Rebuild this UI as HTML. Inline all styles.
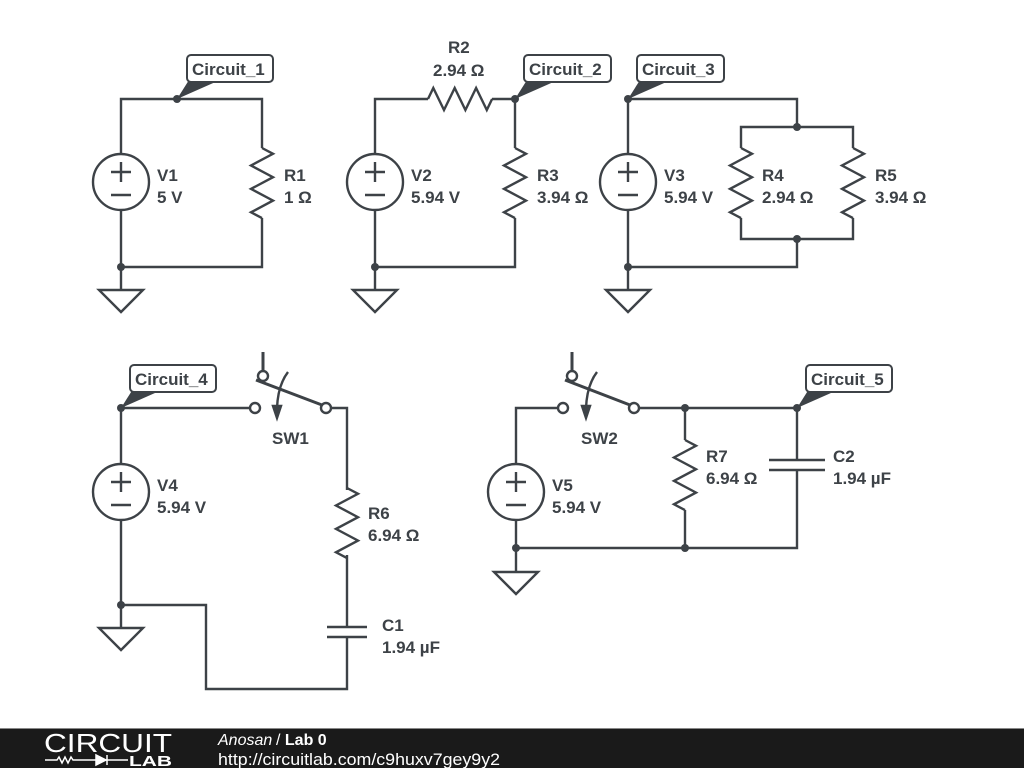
<!DOCTYPE html>
<html><head><meta charset="utf-8"><style>
html,body{margin:0;padding:0;width:1024px;height:768px;overflow:hidden;background:#fff}
svg{display:block}
text{font-family:"Liberation Sans",sans-serif;font-weight:bold;font-size:17px;fill:#3d4247}
</style></head><body>
<svg width="1024" height="768" viewBox="0 0 1024 768">
<defs>
<g id="res"><path d="M0,0 l11,5.8 l-22,11.7 l22,11.7 l-22,11.7 l22,11.7 l-22,11.7 l11,5.8" fill="none"/></g>
<g id="vs"><circle r="28" fill="#fff"/><path d="M-10,-10 h20 M0,-20 v20 M-10,13 h20" fill="none"/></g>
<g id="gnd"><path d="M-22,0 h44 l-22,22 z" fill="#fff"/></g>
</defs>
<g stroke="#3d4247" stroke-width="2.4" fill="none">
<!-- Circuit 1 -->
<path d="M121,154 V99 H262 V148 M262,218 V267 H121 V210 M121,267 V290"/>
<use href="#res" x="262" y="148"/>
<use href="#vs" x="121" y="182"/>
<use href="#gnd" x="121" y="290"/>
<!-- Circuit 2 -->
<path d="M375,154 V99 H428 M492,99 H515 V148 M515,218 V267 H375 V210 M375,267 V290"/>
<path d="M428,99 l5.3,-11 l10.7,22 l10.7,-22 l10.7,22 l10.7,-22 l10.7,22 l5.3,-11"/>
<use href="#res" x="515" y="148"/>
<use href="#vs" x="375" y="182"/>
<use href="#gnd" x="375" y="290"/>
<!-- Circuit 3 -->
<path d="M628,154 V99 H797 V127 M741,148 V127 H853 V148 M741,218 V239 H853 V218 M797,239 V267 H628 V210 M628,267 V290"/>
<use href="#res" x="741" y="148"/>
<use href="#res" x="853" y="148"/>
<use href="#vs" x="628" y="182"/>
<use href="#gnd" x="628" y="290"/>
<!-- Circuit 4 -->
<path d="M121,464 V408 H250 M331,408 H347 V490 M347,555 V627 M347,637 V689 H206 V605 H121 V520 M121,605 V628"/>
<use href="#res" x="347" y="488"/>
<path d="M327,627 H367 M327,637 H367"/>
<circle cx="255" cy="408" r="5" fill="#fff"/>
<circle cx="326" cy="408" r="5" fill="#fff"/>
<circle cx="263" cy="376" r="5" fill="#fff"/>
<path d="M263,352 V371 M256,380 L322,405" stroke-width="3"/>
<path d="M288,372 Q278,385 277,408"/>
<path d="M273,406 L277,418 L281,406 z" fill="#3d4247"/>
<use href="#vs" x="121" y="492"/>
<use href="#gnd" x="121" y="628"/>
<!-- Circuit 5 -->
<path d="M516,464 V408 H558 M639,408 H797 V460 M797,470 V548 H516 V520 M685,408 V440 M685,510 V548 M516,548 V572"/>
<use href="#res" x="685" y="440"/>
<path d="M769,460 H825 M769,470 H825"/>
<circle cx="563" cy="408" r="5" fill="#fff"/>
<circle cx="634" cy="408" r="5" fill="#fff"/>
<circle cx="572" cy="376" r="5" fill="#fff"/>
<path d="M572,352 V371 M565,380 L630,405" stroke-width="3"/>
<path d="M597,372 Q587,385 586,408"/>
<path d="M582,406 L586,418 L590,406 z" fill="#3d4247"/>
<use href="#vs" x="516" y="492"/>
<use href="#gnd" x="516" y="572"/>
</g>
<g fill="#3d4247">
<circle cx="177" cy="99" r="4"/><circle cx="121" cy="267" r="4"/>
<circle cx="515" cy="99" r="4"/><circle cx="375" cy="267" r="4"/>
<circle cx="628" cy="99" r="4"/><circle cx="797" cy="127" r="4"/><circle cx="797" cy="239" r="4"/><circle cx="628" cy="267" r="4"/>
<circle cx="121" cy="408" r="4"/><circle cx="121" cy="605" r="4"/>
<circle cx="685" cy="408" r="4"/><circle cx="797" cy="408" r="4"/><circle cx="516" cy="548" r="4"/><circle cx="685" cy="548" r="4"/>
<path d="M177,99 L189,80 L220,80 z"/>
<path d="M515,99 L527,80 L558,80 z"/>
<path d="M628,99 L640,80 L671,80 z"/>
<path d="M121,408 L133,389 L164,389 z"/>
<path d="M797,408 L809,389 L840,389 z"/>
</g>
<g fill="#fff" stroke="#3d4247" stroke-width="2">
<rect x="187" y="55" width="86" height="27" rx="4"/>
<rect x="524" y="55" width="87" height="27" rx="4"/>
<rect x="637" y="55" width="87" height="27" rx="4"/>
<rect x="130" y="365" width="86" height="27" rx="4"/>
<rect x="806" y="365" width="86" height="27" rx="4"/>
</g>
<text x="192" y="75">Circuit_1</text>
<text x="529" y="75">Circuit_2</text>
<text x="642" y="75">Circuit_3</text>
<text x="135" y="385">Circuit_4</text>
<text x="811" y="385">Circuit_5</text>
<text x="157" y="181">V1</text><text x="157" y="203">5 V</text>
<text x="284" y="181">R1</text><text x="284" y="203">1 Ω</text>
<text x="448" y="53">R2</text><text x="433" y="76">2.94 Ω</text>
<text x="411" y="181">V2</text><text x="411" y="203">5.94 V</text>
<text x="537" y="181">R3</text><text x="537" y="203">3.94 Ω</text>
<text x="664" y="181">V3</text><text x="664" y="203">5.94 V</text>
<text x="762" y="181">R4</text><text x="762" y="203">2.94 Ω</text>
<text x="875" y="181">R5</text><text x="875" y="203">3.94 Ω</text>
<text x="272" y="444">SW1</text>
<text x="157" y="491">V4</text><text x="157" y="513">5.94 V</text>
<text x="368" y="519">R6</text><text x="368" y="541">6.94 Ω</text>
<text x="382" y="631">C1</text><text x="382" y="653">1.94 µF</text>
<text x="581" y="444">SW2</text>
<text x="552" y="491">V5</text><text x="552" y="513">5.94 V</text>
<text x="706" y="462">R7</text><text x="706" y="484">6.94 Ω</text>
<text x="833" y="462">C2</text><text x="833" y="484">1.94 µF</text>
<!-- footer -->
<rect x="0" y="729" width="1024" height="39" fill="#1a1a1a"/>
<rect x="0" y="728" width="1024" height="1" fill="#888"/>
<text x="44" y="752" textLength="128" lengthAdjust="spacingAndGlyphs" style="font-weight:normal;font-size:26px;fill:#fff">CIRCUIT</text>
<path d="M45,760 H57 l2,-3 l3,6 l3,-6 l3,6 l3,-6 l2,3 H128" stroke="#fff" stroke-width="1.5" fill="none"/>
<path d="M96,755 v10 l10,-5 z M107,755 v10" stroke="#fff" stroke-width="1.5" fill="#fff"/>
<text x="129" y="766" textLength="43" lengthAdjust="spacingAndGlyphs" style="font-size:15px;fill:#fff;font-weight:bold">LAB</text>
<text x="218" y="745" style="font-weight:normal;font-style:italic;font-size:16px;fill:#fff">Anosan</text>
<text x="276" y="745" style="font-weight:normal;font-size:16px;fill:#fff">/ <tspan font-weight="bold">Lab 0</tspan></text>
<text x="218" y="765" textLength="282" lengthAdjust="spacingAndGlyphs" style="font-weight:normal;font-size:17px;fill:#fff">http://circuitlab.com/c9huxv7gey9y2</text>
</svg>
</body></html>
